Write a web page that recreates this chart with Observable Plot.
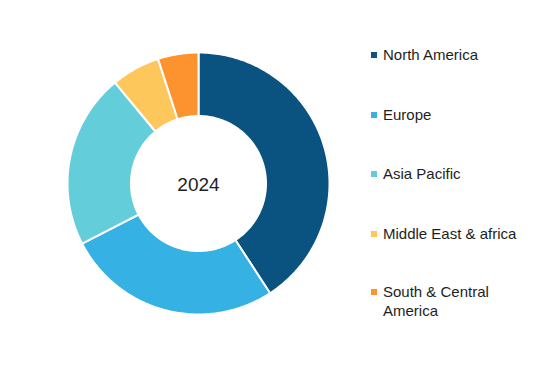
<!DOCTYPE html>
<html>
<head>
<meta charset="utf-8">
<script src="https://cdn.jsdelivr.net/npm/d3@7"></script>
<script src="https://cdn.jsdelivr.net/npm/@observablehq/plot@0.6"></script>
<style>
  html, body { margin: 0; padding: 0; background: #fff; }
  #wrap { position: relative; width: 550px; height: 365px; font-family: "Liberation Sans", Arial, sans-serif; }
  #legend { position: absolute; left: 371px; top: 0; width: 150px; }
  .item { position: absolute; left: 0; width: 150px; display: flex; align-items: flex-start; font-size: 15px; color: #1e1e1e; line-height: 19px; }
  .sw { width: 6px; height: 6px; margin-top: 7px; margin-right: 6px; flex: none; }
</style>
</head>
<body>
<div id="wrap"><div id="chart"></div><div id="legend"></div></div>
<script>
const regions = ["North America", "Europe", "Asia Pacific", "Middle East & africa", "South & Central America"];
const shares = [40.8, 26.6, 21.6, 6.0, 5.0];
const colors = ["#0a527f", "#35b1e3", "#63ced9", "#fec75c", "#fc932f"];
const centerLabel = "2024";

const inner = 67.5 / 131;
const data = regions.map((r, i) => ({region: r, value: shares[i]}));
const arcs = d3.pie().sort(null).value(d => d.value)(data);
const pts = [];
for (const a of arcs) {
  const n = Math.max(8, Math.ceil((a.endAngle - a.startAngle) * 60));
  for (let k = 0; k <= n; k++) {
    const t = a.startAngle + (a.endAngle - a.startAngle) * k / n;
    pts.push({region: a.data.region, x: Math.sin(t), y: Math.cos(t)});
  }
  for (let k = n; k >= 0; k--) {
    const t = a.startAngle + (a.endAngle - a.startAngle) * k / n;
    pts.push({region: a.data.region, x: inner * Math.sin(t), y: inner * Math.cos(t)});
  }
}

const chart = Plot.plot({
  width: 550,
  height: 365,
  margin: 0,
  x: {domain: [-1, 1], range: [67, 329], axis: null},
  y: {domain: [-1, 1], range: [314, 52], axis: null},
  color: {domain: regions, range: colors},
  marks: [
    Plot.line(pts, {x: "x", y: "y", z: "region", fill: "region", stroke: "white", strokeWidth: 2, curve: "linear-closed"}),
    Plot.text([centerLabel], {x: [0], y: [0], text: d => d, fontSize: 19, fill: "#1e1e1e", fontFamily: "Liberation Sans, Arial, sans-serif", dy: 1})
  ]
});
document.getElementById("chart").appendChild(chart);

const tops = [45, 105, 164, 224, 282];
const leg = document.getElementById("legend");
regions.forEach((r, i) => {
  const it = document.createElement("div");
  it.className = "item";
  it.style.top = tops[i] + "px";
  const sw = document.createElement("span");
  sw.className = "sw";
  sw.style.background = colors[i];
  const tx = document.createElement("span");
  tx.textContent = r;
  it.appendChild(sw); it.appendChild(tx);
  leg.appendChild(it);
});
</script>
</body>
</html>
